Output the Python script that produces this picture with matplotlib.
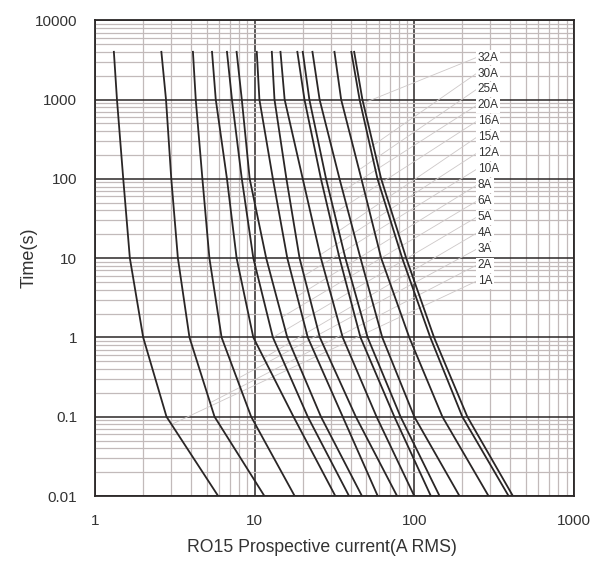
import numpy as np
import matplotlib
matplotlib.use('Agg')
import matplotlib.pyplot as plt
from matplotlib.ticker import LogLocator, FixedLocator, FixedFormatter

plt.rcParams['font.family'] = ['Liberation Sans', 'DejaVu Sans']

# fuse ratings, 1A (left curve) to 32A (right curve)
ratings = ['1A', '2A', '3A', '4A', '5A', '6A', '8A', '10A', '12A',
           '15A', '16A', '20A', '25A', '30A', '32A']

# time points (s) where each curve was read
times = [4000, 1000, 100, 10, 1, 0.1, 0.01]

# prospective current (A) of each curve at those times
i_4000 = [1.31, 2.6, 4.1, 5.4, 6.7, 7.7, 10.3, 12.8, 14.5, 18.5, 20, 23, 31.6, 40.3, 42]
i_1000 = [1.37, 2.78, 4.27, 5.7, 7.2, 8.3, 10.7, 13.3, 15.4, 20.5, 22, 25.5, 34.8, 45.4, 47.3]
i_100 = [1.5, 3.0, 4.7, 6.7, 8.3, 9.3, 13, 15.8, 20, 26, 28, 34, 46.6, 58.8, 62]
i_10 = [1.65, 3.3, 5.2, 7.7, 9.8, 11.8, 16, 19.1, 26, 34, 37, 46, 62, 84, 89]
i_1 = [2.0, 3.9, 6.2, 9.8, 13, 16, 21.5, 25.6, 35.6, 46, 51, 63, 93, 126, 133]
i_01 = [2.8, 5.6, 9.5, 17.5, 21.5, 26, 35.6, 43, 58, 75, 82, 100, 150, 200, 215]
i_001 = [5.9, 11.5, 17.8, 32, 39, 47, 59, 78, 100, 127, 144, 192, 292, 390, 415]

# leader line: time on each curve where the label line meets it
leader_t = [0.08, 0.15, 0.3, 0.55, 1.0, 1.8, 3.3, 6, 11, 20, 37, 70, 130, 250, 900]

label_x = 250
label_t = [10 ** (0.709 + k * (3.53 - 0.709) / 14) for k in range(15)]


def main():
    fig = plt.figure(figsize=(5.91, 5.63), dpi=100)
    ax = fig.add_axes([0.161, 0.119, 0.81, 0.845])
    ax.set_xscale('log')
    ax.set_yscale('log')
    ax.set_xlim(1, 1000)
    ax.set_ylim(0.01, 10000)

    ax.xaxis.set_minor_locator(LogLocator(base=10, subs=np.arange(2, 10)))
    ax.yaxis.set_minor_locator(LogLocator(base=10, subs=np.arange(2, 10), numticks=20))
    ax.yaxis.set_major_locator(FixedLocator([0.01, 0.1, 1, 10, 100, 1000, 10000]))
    ax.yaxis.set_major_formatter(FixedFormatter(['0.01', '0.1', '1', '10', '100', '1000', '10000']))
    ax.xaxis.set_major_locator(FixedLocator([1, 10, 100, 1000]))
    ax.xaxis.set_major_formatter(FixedFormatter(['1', '10', '100', '1000']))

    ax.grid(which='minor', color='#c2baba', lw=0.9)
    ax.grid(which='major', color='#2b2727', lw=1.1)
    ax.set_axisbelow(True)
    ax.tick_params(which='both', length=0, labelsize=11, colors='#333333')
    ax.tick_params(axis='x', pad=13)
    ax.tick_params(axis='y', pad=13)
    for s in ax.spines.values():
        s.set_color('#2b2727')
        s.set_linewidth(1.3)

    cols = np.array([i_4000, i_1000, i_100, i_10, i_1, i_01, i_001])
    lt = np.log10(times)[::-1]
    for k in range(len(ratings)):
        cur = cols[:, k]
        # leader line from label to curve
        lx = 10 ** np.interp(np.log10(leader_t[k]), lt, np.log10(cur)[::-1])
        ax.plot([label_x * 0.98, lx], [label_t[k], leader_t[k]],
                color='#cdc8c8', lw=0.6, zorder=2)
        ax.plot(cur, times, color='#2a2626', lw=1.3, zorder=3,
                solid_joinstyle='round')
        ax.text(label_x, label_t[k], ratings[k], fontsize=8.5, va='center', ha='left',
                color='#333333', zorder=4,
                bbox=dict(facecolor='white', edgecolor='none', pad=1.0))

    ax.set_xlabel('RO15 Prospective current(A RMS)', fontsize=12.7, color='#333333')
    ax.xaxis.set_label_coords(0.474, -0.09)
    ax.set_ylabel('Time(s)', fontsize=13, color='#333333')
    ax.yaxis.set_label_coords(-0.12, 0.5)

    fig.savefig('out.png', dpi=100)


if __name__ == "__main__":
    main()
